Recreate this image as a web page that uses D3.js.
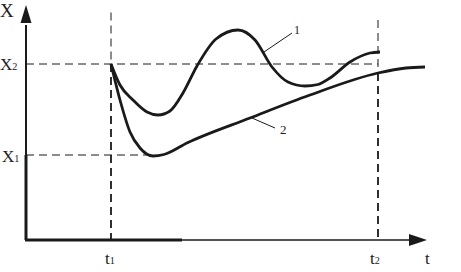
<!DOCTYPE html>
<html>
<head>
<meta charset="utf-8">
<script src="https://cdn.jsdelivr.net/npm/d3@7"></script>
<style>
  body { margin: 0; background: #fff; }
  svg text { font-family: "Liberation Serif", "DejaVu Serif", serif; fill: #222; }
</style>
</head>
<body>
<div id="chart"></div>
<script>
// data (t in arbitrary units, X in arbitrary units)
const t1 = 21.25, t2 = 88;
const X1 = 17, X2 = 35.2;

const curve1 = [
  [21.25, 35.2], [23.5, 31], [26.75, 28], [30.25, 25.6], [33, 25],
  [36, 25.8], [39.25, 29.4], [42.75, 34.8], [47.5, 40.2], [53, 42],
  [57.25, 40], [61.5, 34.6], [65.5, 31.6], [69.75, 30.8],
  [73, 31.1], [76, 32.4], [81, 35.6], [86, 37.4], [88.5, 37.6]
];
const curve2 = [
  [21.25, 35.2], [23.5, 28], [26, 21.6], [28.5, 18.4], [31.75, 16.8],
  [34.5, 17.1], [40.5, 19.5], [56, 24.4], [71, 29], [88, 33.4],
  [95, 34.4], [99.75, 34.6]
];

const width = 461, height = 272;

const x = d3.scaleLinear().domain([0, 100]).range([26, 426]);
const y = d3.scaleLinear().domain([0, 47]).range([240, 5]);

const svg = d3.create("svg")
  .attr("width", width)
  .attr("height", height);

const ink = "#1a1a1a";

// dashed guides
function dashed(x0, y0, x1, y1, w) {
  svg.append("line")
    .attr("x1", x(x0)).attr("y1", y(y0))
    .attr("x2", x(x1)).attr("y2", y(y1))
    .attr("stroke", ink)
    .attr("stroke-width", w)
    .attr("stroke-dasharray", "8,5");
}
dashed(0, X2, t2, X2, 1);
dashed(0, X1, 31, X1, 1.2);
dashed(t1, 45.5, t1, X2, 1);
dashed(t1, X2, t1, 0, 1.8);
dashed(t2, 44, t2, 33.4, 1);
dashed(t2, 33.4, t2, 0, 1.8);

// axes
svg.append("line")
  .attr("x1", x(0)).attr("y1", y(0)).attr("x2", x(0)).attr("y2", y(X1))
  .attr("stroke", ink).attr("stroke-width", 3);
svg.append("line")
  .attr("x1", x(0)).attr("y1", y(X1)).attr("x2", x(0)).attr("y2", y(43))
  .attr("stroke", ink).attr("stroke-width", 2);
svg.append("line")
  .attr("x1", x(0) - 1).attr("y1", y(0)).attr("x2", x(39)).attr("y2", y(0))
  .attr("stroke", ink).attr("stroke-width", 3);
svg.append("line")
  .attr("x1", x(39)).attr("y1", y(0)).attr("x2", x(97)).attr("y2", y(0))
  .attr("stroke", ink).attr("stroke-width", 1.5);

// arrow heads
svg.append("path")
  .attr("d", `M${x(0)},${y(47)} L${x(0) - 5.5},${y(43.4)} L${x(0) + 5.5},${y(43.4)} Z`)
  .attr("fill", ink);
svg.append("path")
  .attr("d", `M${x(100.25)},${y(0)} L${x(95.75)},${y(0) - 6} L${x(95.75)},${y(0) + 6} Z`)
  .attr("fill", ink);

// curves
const line = d3.line()
  .x(d => x(d[0]))
  .y(d => y(d[1]))
  .curve(d3.curveMonotoneX);

[curve1, curve2].forEach(c => {
  svg.append("path")
    .datum(c)
    .attr("d", line)
    .attr("fill", "none")
    .attr("stroke", ink)
    .attr("stroke-width", 2.8)
    .attr("stroke-linejoin", "round");
});

// leader lines
svg.append("line")
  .attr("x1", x(59.5)).attr("y1", y(37.6)).attr("x2", x(66.5)).attr("y2", y(41.4))
  .attr("stroke", ink).attr("stroke-width", 1);
svg.append("line")
  .attr("x1", x(56.5)).attr("y1", y(24.4)).attr("x2", x(62.25)).attr("y2", y(22.4))
  .attr("stroke", ink).attr("stroke-width", 1);

// labels
function label(txt, sub, px, py, size) {
  const t = svg.append("text")
    .attr("x", px).attr("y", py)
    .attr("font-size", size)
    .text(txt);
  if (sub) {
    t.append("tspan")
      .attr("font-size", size * 0.6)
      .text(sub);
  }
}
label("X", null, 0, 17, 19);
label("X", "2", 0, 70, 17);
label("X", "1", 2, 162, 17);
label("t", "1", 105, 264, 17);
label("t", "2", 370, 264, 17);
label("t", null, 425, 264, 17);
label("1", null, 294, 34, 12);
label("2", null, 280, 134, 13);

document.getElementById("chart").appendChild(svg.node());
</script>
</body>
</html>
